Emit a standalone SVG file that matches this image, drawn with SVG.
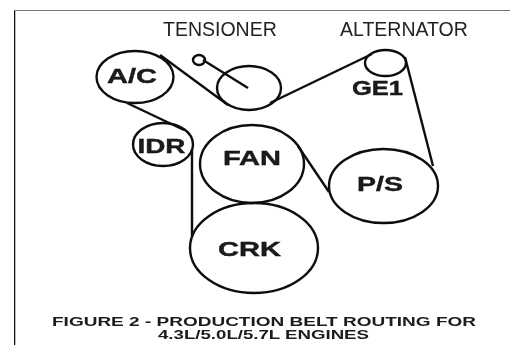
<svg xmlns="http://www.w3.org/2000/svg" width="510" height="345" viewBox="0 0 510 345">
<defs><filter id="soft" x="0" y="0" width="100%" height="100%"><feGaussianBlur stdDeviation="0.45"/></filter></defs>
<style>
.p{fill:none;stroke:#111;stroke-width:2.4}
.b{fill:none;stroke:#111;stroke-width:2.4}
text{font-family:"Liberation Sans",Arial,sans-serif;fill:#1a1a1a}
.l{font-size:19.5px;fill:#222}
.n{font-size:21px;font-weight:bold;text-anchor:middle;stroke:#111;stroke-width:.4}
.c{font-size:12.5px;font-weight:bold;text-anchor:middle}
</style>
<rect width="510" height="345" fill="#fff"/>
<g filter="url(#soft)">
<g id="frame">
<path d="M14.5 345V10" fill="none" stroke="#111" stroke-width="1.5"/>
<path d="M14 10H510" fill="none" stroke="#777" stroke-width="2"/>
</g>
<g id="connectors">
<path class="b" d="M160 55L228 105"/>
<path class="b" d="M270 103L372 54"/>
<path class="b" d="M405 57L433 166"/>
<path class="b" d="M127 103L184 130"/>
<path class="b" d="M192 150V236"/>
<path class="b" d="M298 146L329 192"/>
<path class="b" d="M203 60L248 88"/>
</g>
<g id="ac"><ellipse class="p" cx="135" cy="77" rx="38.5" ry="26"/><text class="n" x="132" y="83" textLength="50" lengthAdjust="spacingAndGlyphs">A/C</text></g>
<g id="idr"><ellipse class="p" cx="163" cy="144.5" rx="30" ry="21.5"/><text class="n" x="161.5" y="153" textLength="48" lengthAdjust="spacingAndGlyphs">IDR</text></g>
<g id="tensioner"><ellipse class="p" cx="249" cy="88" rx="32" ry="22"/><ellipse class="p" cx="199" cy="60" rx="6" ry="5"/><text class="l" x="163" y="36">TENSIONER</text></g>
<g id="alternator"><ellipse class="p" cx="385.5" cy="63" rx="20.5" ry="13"/><text class="l" x="340" y="36">ALTERNATOR</text><text class="n" x="377.5" y="95" textLength="51" lengthAdjust="spacingAndGlyphs">GE1</text></g>
<g id="fan"><ellipse class="p" cx="252" cy="164" rx="52" ry="39"/><text class="n" x="252" y="165" textLength="58" lengthAdjust="spacingAndGlyphs">FAN</text></g>
<g id="ps"><ellipse class="p" cx="383.5" cy="186" rx="54.5" ry="37"/><text class="n" x="380" y="191" textLength="46" lengthAdjust="spacingAndGlyphs">P/S</text></g>
<g id="crk"><ellipse class="p" cx="254" cy="248" rx="64" ry="45"/><text class="n" x="249.5" y="256" textLength="63" lengthAdjust="spacingAndGlyphs">CRK</text></g>
<g id="caption"><text class="c" x="264" y="326" textLength="424" lengthAdjust="spacingAndGlyphs">FIGURE 2 - PRODUCTION BELT ROUTING FOR</text><text class="c" x="263.5" y="339" textLength="211" lengthAdjust="spacingAndGlyphs">4.3L/5.0L/5.7L ENGINES</text></g>
</g>
</svg>
